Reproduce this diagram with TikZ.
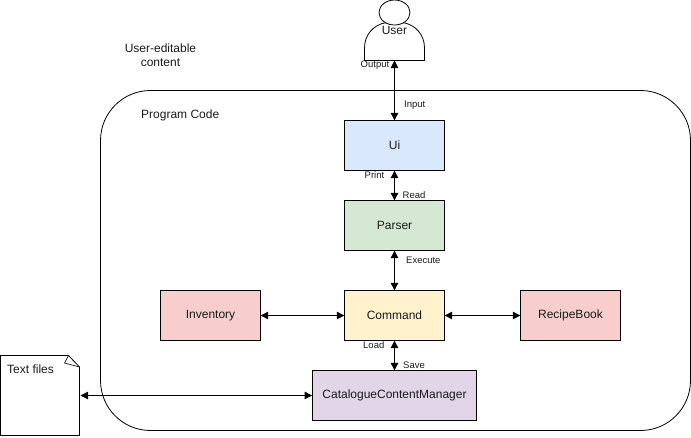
\documentclass[tikz,border=0pt]{standalone}
\usepackage{fontspec}
\setmainfont{Liberation Sans}
\usetikzlibrary{arrows.meta}
\definecolor{cblue}{HTML}{DAE8FC}
\definecolor{cgreen}{HTML}{D5E8D4}
\definecolor{cred}{HTML}{F8CECC}
\definecolor{cyellow}{HTML}{FFF2CC}
\definecolor{cpurple}{HTML}{E1D5E7}
\definecolor{txt}{HTML}{1A1A1A}
\tikzset{
  x=1pt,y=-1pt,
  outline/.style={draw=black,line width=0.8pt},
  modbox/.style={outline,minimum width=99.5pt,minimum height=49.5pt,inner sep=0pt,font=\fontsize{12}{14}\selectfont,text=txt},
  link/.style={draw=black,line width=0.95pt,{Triangle[length=7.5pt,width=7.5pt]}-{Triangle[length=7.5pt,width=7.5pt]}},
  tag/.style={font=\fontsize{9.5}{11}\selectfont,text=txt,inner sep=0pt},
  caption/.style={font=\fontsize{12}{14}\selectfont,text=txt,inner sep=0pt,align=center},
}
\begin{document}
\begin{tikzpicture}
\useasboundingbox (0,0) rectangle (691,437);
% program frame
\draw[outline,rounded corners=50pt] (100.5,90.5) rectangle (690.5,430.5);
% actor
\draw[outline,fill=white] (364.5,60.5) -- (364.5,48) .. controls (364.5,34) and (374,25.5) .. (384,23)
  -- (405,23) .. controls (415,25.5) and (424.5,34) .. (424.5,48) -- (424.5,60.5) -- cycle;
\draw[outline,fill=white] (394.5,12.5) ellipse (15.5 and 12.5);
\coordinate (userbase) at (394.5,60.5);
\node[caption] (user) at (394.5,30) {User};
% modules
\node[modbox,fill=cblue] (ui) at (394.5,145.5) {Ui};
\node[modbox,fill=cgreen] (parser) at (394.5,225.5) {Parser};
\node[modbox,fill=cyellow] (command) at (394.5,315.5) {Command};
\node[modbox,fill=cred] (inventory) at (210.5,315.5) {Inventory};
\node[modbox,fill=cred] (recipe) at (570.5,315.5) {RecipeBook};
\node[modbox,fill=cpurple,minimum width=164pt] (catalogue) at (394.5,395.5) {CatalogueContentManager};
% text file
\draw[outline,fill=white] (0.5,355.5) -- (68.5,355.5) -- (79.5,367) -- (79.5,435.5) -- (0.5,435.5) -- cycle;
\draw[outline,line width=0.6pt] (68.5,355.5) -- (64.5,363) -- (79.5,367);
\coordinate (fileedge) at (80.5,395.5);
\node[caption,anchor=west] (files) at (7,369.5) {Text files};
% connectors
\draw[link] (userbase) -- (ui.north);
\draw[link] (ui.south) -- (parser.north);
\draw[link] (parser.south) -- (command.north);
\draw[link] (inventory.east) -- (command.west);
\draw[link] (command.east) -- (recipe.west);
\draw[link] (command.south) -- (catalogue.north);
\draw[link] (fileedge) -- (catalogue.west);
% labels
\node[caption] (editable) at (160.5,55) {User-editable\\content};
\node[caption,anchor=west] (progcode) at (141,115) {Program Code};
\node[tag,anchor=west] (output) at (360.5,65.5) {Output};
\node[tag,anchor=west] (input) at (404,105.5) {Input};
\node[tag,anchor=west] (print) at (364.5,175.5) {Print};
\node[tag,anchor=west] (read) at (402.5,195.5) {Read};
\node[tag,anchor=west] (execute) at (406,260.5) {Execute};
\node[tag,anchor=west] (load) at (363,345.5) {Load};
\node[tag,anchor=west] (save) at (403,365.5) {Save};
\end{tikzpicture}
\end{document}
